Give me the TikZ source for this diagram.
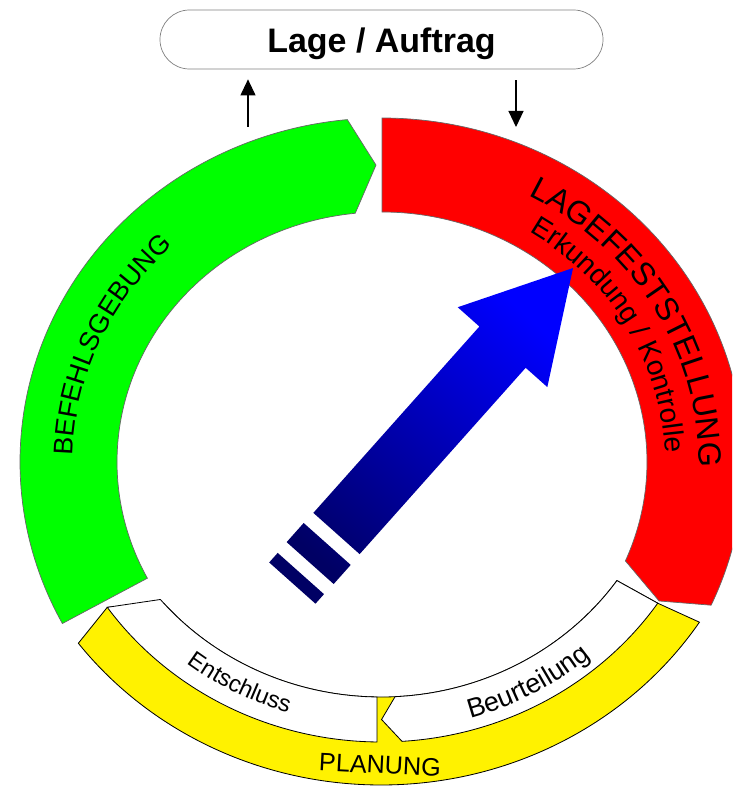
\documentclass[tikz,border=0pt]{standalone}
\usepackage{fontspec}
\setmainfont{Liberation Sans}
\usetikzlibrary{calc}
\usetikzlibrary{arrows.meta}
\usetikzlibrary{decorations.text}

\definecolor{arrowdark}{RGB}{0,0,100}
\definecolor{arrowlight}{RGB}{0,0,255}

\tikzset{
	band/.style={draw=black!60, line width=0.6pt},
	ring/.style={draw=black, line width=0.7pt},
	bendtext/.style={decorate, decoration={text along path, text align=center, text={#1}}},
	flow/.style={-{Triangle[length=0.48cm, width=0.45cm]}, line width=0.9pt},
}

\begin{document}
\begin{tikzpicture}[x=0.03cm, y=0.03cm]
		\useasboundingbox (0,0) rectangle (732,-789);
		\clip (0,0) rectangle (732,-789);
		\coordinate (O) at (382,-462);
		\coordinate (U) at (381,-424);

		% outer ring
		\filldraw[band, fill=green] ($(O)+(208:362 and 344)$) arc[start angle=208, end angle=95.5, x radius=362, y radius=344] -- ($(O)+(91.1:313.5 and 297)$) -- ($(O)+(95.8:265 and 250)$) arc[start angle=95.8, end angle=207.7, x radius=265, y radius=250] -- cycle;
		\filldraw[band, fill=red] ($(O)+(90:362 and 344)$) arc[start angle=90, end angle=-24.6, x radius=362, y radius=344] -- ($(O)+(-27.9:313.5 and 297)$) -- ($(O)+(-23.3:265 and 250)$) arc[start angle=-23.3, end angle=90, x radius=265, y radius=250] -- cycle;

		% lower ring
		\filldraw[ring, fill=yellow] ($(U)+(-33.3:381 and 361)$) arc[start angle=-33.3, end angle=-142.6, x radius=381, y radius=361] -- ($(U)+(-144.8:335 and 318)$) -- ($(U)+(-139:288 and 273)$) arc[start angle=-139, end angle=-35, x radius=288, y radius=273] -- ($(U)+(-34.3:335 and 318)$) -- cycle;
		\filldraw[ring, fill=white] ($(U)+(-144.8:335 and 318)$) arc[start angle=-144.8, end angle=-90.7, x radius=335, y radius=318] -- ($(U)+(-90.8:288 and 273)$) arc[start angle=-90.8, end angle=-140, x radius=288, y radius=273] -- cycle;
		\filldraw[ring, fill=white] ($(U)+(-87.2:288 and 273)$) -- ($(U)+(-89.9:311.5 and 295.5)$) -- ($(U)+(-86.4:335 and 318)$) arc[start angle=-86.4, end angle=-34.3, x radius=335, y radius=318] -- ($(U)+(-35:288 and 273)$) arc[start angle=-35, end angle=-87.2, x radius=288, y radius=273] -- cycle;

		% labels along the ring
		\path[bendtext={|\fontsize{27.5}{30}\selectfont|LAGEFESTSTELLUNG}] ($(O)+(75:316.5 and 300.5)$) arc[start angle=75, end angle=-14, x radius=316.5, y radius=300.5];
		\path[bendtext={|\fontsize{24}{26}\selectfont|Erkundung / Kontrolle}] ($(O)+(75:283 and 269)$) arc[start angle=75, end angle=-15, x radius=283, y radius=269];
		\path[bendtext={|\fontsize{23}{25}\selectfont|BEFEHLSGEBUNG}] ($(O)+(200:309 and 293)$) arc[start angle=200, end angle=112, x radius=309, y radius=293];
		\path[bendtext={|\fontsize{20}{22}\selectfont|Entschluss}] ($(U)+(216:318 and 302)$) arc[start angle=216, end angle=269, x radius=318, y radius=302];
		\path[bendtext={|\fontsize{23}{25}\selectfont|Beurteilung}] ($(U)+(272:323 and 306.5)$) arc[start angle=272, end angle=325, x radius=323, y radius=306.5];
		\node[rotate=-3, font=\fontsize{21.5}{24}\selectfont] (planung) at (380,-765) {PLANUNG};

		% top box and arrows
		\node[draw=black!50, line width=0.6pt, fill=white, rounded corners=0.885cm, minimum width=13.29cm, minimum height=1.77cm, text height=0.81cm, text depth=0cm, font=\bfseries\fontsize{29}{31}\selectfont] (lage) at (381.5,-39.5) {Lage / Auftrag};
		\coordinate (upfoot) at (248,-127);
		\coordinate (downfoot) at (516,-127);
		\draw[flow, shorten >=0.3cm] (upfoot) -- (upfoot |- lage.south);
		\draw[flow, shorten <=0.33cm] (downfoot |- lage.south) -- (downfoot);

		% blue arrow
		\begin{scope}[shift={(336.5,-533.5)}, rotate=48.3]
			\shade[bottom color=arrowdark, top color=arrowlight, shading angle=-41.7] (0,-31) -- (249.6,-31) -- (249.6,-60) -- (355.6,0) -- (249.6,60) -- (249.6,31) -- (0,31) -- cycle (-14,-31.5) rectangle (-39.6,31.5) (-53.6,-31) rectangle (-66.4,31);
		\end{scope}
	\end{tikzpicture}
\end{document}
